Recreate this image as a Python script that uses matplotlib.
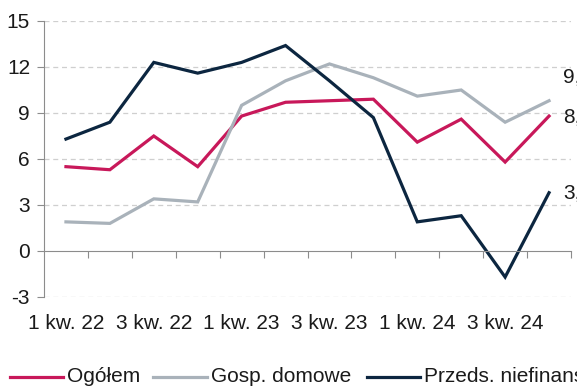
import matplotlib
matplotlib.use("Agg")
import matplotlib.pyplot as plt
from matplotlib.lines import Line2D
import matplotlib.transforms as mtransforms

plt.rcParams['font.family'] = ['Liberation Sans', 'DejaVu Sans']
plt.rcParams['axes.unicode_minus'] = False

quarters = ["1 kw. 22", "2 kw. 22", "3 kw. 22", "4 kw. 22",
            "1 kw. 23", "2 kw. 23", "3 kw. 23", "4 kw. 23",
            "1 kw. 24", "2 kw. 24", "3 kw. 24", "4 kw. 24"]
ogolem = [5.5, 5.3, 7.5, 5.5, 8.8, 9.7, 9.8, 9.9, 7.1, 8.6, 5.8, 8.8]
gosp_domowe = [1.9, 1.8, 3.4, 3.2, 9.5, 11.1, 12.2, 11.3, 10.1, 10.5, 8.4, 9.8]
przeds = [7.3, 8.4, 12.3, 11.6, 12.3, 13.4, 11.1, 8.7, 1.9, 2.3, -1.7, 3.8]

series = [
    ("Ogółem", ogolem, "#C8185A"),
    ("Gosp. domowe", gosp_domowe, "#A9B2BA"),
    ("Przeds. niefinansowe", przeds, "#0C2640"),
]
# vertical nudge (points) of the end labels so they do not collide
label_dy = [-1, 17, 0]

FS = 15
W, H = 577, 386
fig = plt.figure(figsize=(W / 100, H / 100), dpi=100)
ax = fig.add_axes([44 / W, 1 - 297 / H, (571 - 44) / W, (297 - 21) / H])

x = [i + 0.5 for i in range(len(quarters))]
for name, vals, col in series:
    ax.plot(x, vals, color=col, lw=2.3, solid_joinstyle="miter", clip_on=False)

ax.set_xlim(0, len(quarters))
ax.set_ylim(-3, 15)
ax.set_yticks(range(-3, 16, 3))
ax.tick_params(axis="y", labelsize=FS, labelcolor="#1A1A1A", length=5,
               color="#8C8C8C", pad=5)
for v in range(-3, 16, 3):
    if v != 0:
        ax.axhline(v, color="#CFCFCF", lw=0.9, ls=(0, (4, 3)), zorder=0)

for s in ["top", "right"]:
    ax.spines[s].set_visible(False)
ax.spines["left"].set_color("#8C8C8C")
ax.spines["bottom"].set_color("#8C8C8C")
ax.spines["bottom"].set_position(("data", 0))

# tick marks between quarters, labels drawn below the plot
ax.set_xticks(range(1, len(quarters) + 1))
ax.set_xticklabels([])
ax.tick_params(axis="x", length=5, color="#8C8C8C", direction="out")
trans = mtransforms.blended_transform_factory(ax.transData, ax.transAxes)
for i in range(0, len(quarters), 2):
    ax.text(x[i], -0.095, quarters[i], transform=trans, ha="center", va="center",
            fontsize=FS, color="#1A1A1A")

# end-of-series value labels
for (name, vals, col), dy in zip(series, label_dy):
    ax.annotate(f"{vals[-1]:.1f}".replace(".", ","), xy=(x[-1], vals[-1]),
                xytext=(10, dy), textcoords="offset points",
                va="center", ha="left", fontsize=FS, color="#1A1A1A",
                annotation_clip=False)

# legend along the bottom edge
ly = 1 - 377 / H
legend_items = [(10, 63, 67), (153, 207, 211), (367, 420, 424)]
for (x0, x1, tx), (name, vals, col) in zip(legend_items, series):
    fig.add_artist(Line2D([x0 / W, x1 / W], [ly, ly], color=col, lw=2.3,
                          transform=fig.transFigure))
    fig.text(tx / W, ly, name, ha="left", va="center", fontsize=FS, color="#1A1A1A")

fig.savefig("out.png", dpi=100)
